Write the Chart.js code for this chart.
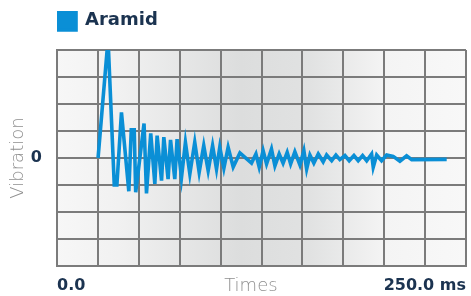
<!DOCTYPE html>
<html>
<head>
<meta charset="utf-8">
<script src="https://cdn.jsdelivr.net/npm/chart.js@4"></script>
<style>
  html, body { margin: 0; padding: 0; background: #fff; }
</style>
</head>
<body>
<canvas id="myChart" width="471" height="296"></canvas>
<script>
// time in ms, vibration in grid units (zero in the middle)
const times = [25.1, 31.2, 35.0, 36.6, 39.4, 43.9, 45.4, 47.2, 48.1, 53.2, 54.7, 57.3, 59.8, 61.2, 63.9, 65.3, 67.9, 69.4, 72.0, 73.4,
  76.1, 78.5, 81.2, 84.2, 86.9, 89.7, 92.4, 95.1, 97.5, 99.5, 102.0, 104.6, 107.7, 111.8, 118.9, 121.6, 123.6, 126.0, 128.1, 131.1,
  133.2, 135.8, 138.2, 140.7, 142.8, 145.4, 148.5, 150.9, 152.6, 154.6, 157.0, 159.7, 162.7, 164.8, 167.9, 170.5, 172.9, 176.0, 178.6, 181.5,
  184.1, 186.8, 189.3, 192.3, 193.3, 195.4, 198.4, 201.5, 205.5, 209.6, 213.7, 216.8, 238.2];
const vibration = [0, 4.4, -1.0, -1.0, 1.69, -1.23, 1.04, 1.04, -1.27, 1.28, -1.31, 0.91, -0.96, 0.83, -0.84, 0.77, -0.78, 0.67, -0.78, 0.70,
  -0.72, 0.58, -0.59, 0.58, -0.53, 0.46, -0.47, 0.46, -0.41, 0.40, -0.38, 0.40, -0.33, 0.19, -0.19, 0.15, -0.34, 0.27, -0.22, 0.33,
  -0.29, 0.15, -0.19, 0.21, -0.22, 0.23, -0.26, 0.27, -0.41, 0.11, -0.19, 0.15, -0.14, 0.11, -0.10, 0.11, -0.06, 0.09, -0.10, 0.09,
  -0.10, 0.09, -0.10, 0.15, -0.34, 0.11, -0.10, 0.11, 0.06, -0.12, 0.08, -0.06, -0.05];

const seriesName = 'Aramid';
const xTickValues = [0, 118.5, 250];
const xTickLabels = ['0.0', 'Times', '250.0 ms'];
const yTickLabels = ['0'];   // only the zero line is labelled

const navy = '#1b3350';
const gridColor = '#7b7b7b';
const softGrey = '#8f8f8f';

// grey band across the plot area
const bgPlugin = {
  id: 'bg',
  beforeDraw(chart) {
    const {ctx, chartArea: a} = chart;
    const g = ctx.createLinearGradient(a.left, 0, a.right, 0);
    g.addColorStop(0, '#f7f7f7');
    g.addColorStop(0.15, '#f1f1f1');
    g.addColorStop(0.45, '#dcdddd');
    g.addColorStop(0.62, '#e1e2e2');
    g.addColorStop(0.8, '#f4f4f4');
    g.addColorStop(1, '#f8f8f8');
    ctx.save();
    ctx.fillStyle = g;
    ctx.fillRect(a.left, a.top, a.right - a.left, a.bottom - a.top);
    ctx.restore();
  }
};

// some room between the legend and the grid
const legendGap = {
  id: 'legendGap',
  beforeInit(chart) {
    const fit = chart.legend.fit;
    chart.legend.fit = function () { fit.call(this); this.height += 10; };
  }
};

const points = times.map((t, i) => ({x: t, y: vibration[i]}));

new Chart(document.getElementById('myChart'), {
  type: 'line',
  data: {
    datasets: [{
      label: seriesName,
      data: points,
      borderColor: '#0a8fd6',
      backgroundColor: '#0a8fd6',
      borderWidth: 3.6,
      pointRadius: 0,
      tension: 0
    }]
  },
  options: {
    responsive: false,
    animation: false,
    layout: { padding: { top: 11, right: 5, left: 0, bottom: 0 } },
    plugins: {
      tooltip: { enabled: false },
      legend: {
        display: true,
        position: 'top',
        align: 'start',
        fullSize: false,
        labels: {
          boxWidth: 19,
          boxHeight: 19,
          padding: 0,
          color: navy,
          font: { family: 'DejaVu Sans', size: 18, weight: 'bold' }
        }
      }
    },
    scales: {
      x: {
        type: 'linear',
        min: 0,
        max: 250,
        afterBuildTicks(axis) {
          const vals = [];
          for (let v = 0; v <= 250; v += 25) vals.push(v);
          xTickValues.forEach(v => { if (!vals.includes(v)) vals.push(v); });
          vals.sort((a, b) => a - b);
          axis.ticks = vals.map(v => ({value: v}));
        },
        afterFit(axis) { axis.height = 30; },
        grid: {
          color: ctx => (ctx.tick && ctx.tick.value % 25 !== 0) ? 'rgba(0,0,0,0)' : gridColor,
          lineWidth: 2,
          drawTicks: false
        },
        border: { display: true, color: gridColor, width: 2 },
        ticks: {
          autoSkip: false,
          maxRotation: 0,
          align: 'inner',
          padding: 0,
          callback: v => {
            const i = xTickValues.indexOf(v);
            return i >= 0 ? xTickLabels[i] : '';
          },
          color: ctx => ctx.tick && ctx.tick.value === xTickValues[1] ? softGrey : navy,
          // tall line height drops the labels below the grid
          font: ctx => ctx.tick && ctx.tick.value === xTickValues[1]
            ? { family: 'DejaVu Sans', size: 18, weight: 200, lineHeight: '40px' }
            : { family: 'DejaVu Sans', size: 16, weight: 'bold', lineHeight: '40px' }
        }
      },
      y: {
        min: -4,
        max: 4,
        afterFit(axis) { axis.width = 57; },
        grid: { color: gridColor, lineWidth: 2, drawTicks: false },
        border: { display: true, color: gridColor, width: 2 },
        title: {
          display: true,
          text: 'Vibration',
          color: softGrey,
          font: { family: 'DejaVu Sans', size: 18, weight: 200 },
          padding: { top: 8, bottom: 0 }
        },
        ticks: {
          stepSize: 1,
          padding: 15,
          color: navy,
          font: { family: 'DejaVu Sans', size: 16, weight: 'bold' },
          callback: v => v === 0 ? yTickLabels[0] : ''
        }
      }
    }
  },
  plugins: [bgPlugin, legendGap]
});
</script>
</body>
</html>
